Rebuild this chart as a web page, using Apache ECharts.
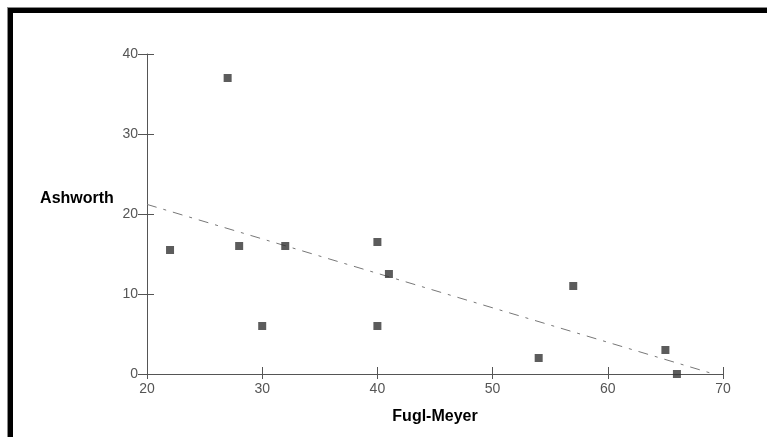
<!DOCTYPE html>
<html>
<head>
<meta charset="utf-8">
<script src="https://cdn.jsdelivr.net/npm/echarts@6/dist/echarts.min.js"></script>
<style>
html,body{margin:0;padding:0;background:#fff;}
#chart{width:767px;height:437px;}
</style>
</head>
<body>
<div id="chart"></div>
<script>
// Data
var fuglMeyer = [22, 27, 28, 30, 32, 40, 40, 41, 54, 57, 65, 66];
var ashworth  = [15.5, 37, 16, 6, 16, 16.5, 6, 12.5, 2, 11, 3, 0];
var trendX = [20, 69.2];
var trendY = [21.2, 0];
var xTicks = [20, 30, 40, 50, 60, 70];
var yTicks = [0, 10, 20, 30, 40];
var xName = 'Fugl-Meyer';
var yName = 'Ashworth';

var points = fuglMeyer.map(function (x, i) { return [x, ashworth[i]]; });
var trend = trendX.map(function (x, i) { return [x, trendY[i]]; });

var axisColor = '#555';
var labelColor = '#555';
var font = 'Liberation Sans, Arial, sans-serif';

function xAxisCfg(main) {
  return {
    type: 'value', position: 'bottom',
    min: xTicks[0], max: xTicks[xTicks.length - 1], interval: xTicks[1] - xTicks[0],
    axisLine: { show: main, onZero: false, lineStyle: { color: axisColor, width: 1 } },
    axisTick: { show: true, inside: !main, length: main ? 5 : 7, lineStyle: { color: axisColor } },
    axisLabel: { show: main, color: labelColor, fontSize: 14, fontFamily: font, margin: 8 },
    splitLine: { show: false }
  };
}
function yAxisCfg(main) {
  return {
    type: 'value', position: 'left',
    min: yTicks[0], max: yTicks[yTicks.length - 1], interval: yTicks[1] - yTicks[0],
    axisLine: { show: main, onZero: false, lineStyle: { color: axisColor, width: 1 } },
    axisTick: { show: true, inside: !main, length: main ? 9 : 7, lineStyle: { color: axisColor } },
    axisLabel: { show: main, color: labelColor, fontSize: 14, fontFamily: font, margin: 9 },
    splitLine: { show: false }
  };
}

var chart = echarts.init(document.getElementById('chart'), null, { renderer: 'canvas' });
chart.setOption({
  animation: false,
  backgroundColor: '#fff',
  grid: { left: 147, right: 44, top: 54, bottom: 63, containLabel: false },
  xAxis: [xAxisCfg(true), xAxisCfg(false)],
  yAxis: [yAxisCfg(true), yAxisCfg(false)],
  graphic: [
    { type: 'rect', shape: { x: 7, y: 7, width: 800, height: 1 }, style: { fill: '#8a8a8a' }, silent: true },
    { type: 'rect', shape: { x: 7, y: 7, width: 1, height: 500 }, style: { fill: '#8a8a8a' }, silent: true },
    { type: 'rect', shape: { x: 8, y: 8, width: 800, height: 5 }, style: { fill: '#000' }, silent: true },
    { type: 'rect', shape: { x: 8, y: 8, width: 5, height: 500 }, style: { fill: '#000' }, silent: true },
    { type: 'text', x: 77, y: 199, style: { text: yName, fill: '#000', font: 'bold 16px ' + font, align: 'center', verticalAlign: 'middle' } },
    { type: 'text', x: 435, y: 417, style: { text: xName, fill: '#000', font: 'bold 16px ' + font, align: 'center', verticalAlign: 'middle' } }
  ],
  series: [
    {
      type: 'line', xAxisIndex: 0, yAxisIndex: 0, data: trend, showSymbol: false, symbol: 'none',
      lineStyle: { color: '#777', width: 1, type: [10, 7, 3, 7] }, z: 2
    },
    {
      type: 'scatter', xAxisIndex: 0, yAxisIndex: 0, data: points, symbol: 'rect', symbolSize: 8,
      itemStyle: { color: '#333' }, z: 3
    }
  ]
});
</script>
</body>
</html>
